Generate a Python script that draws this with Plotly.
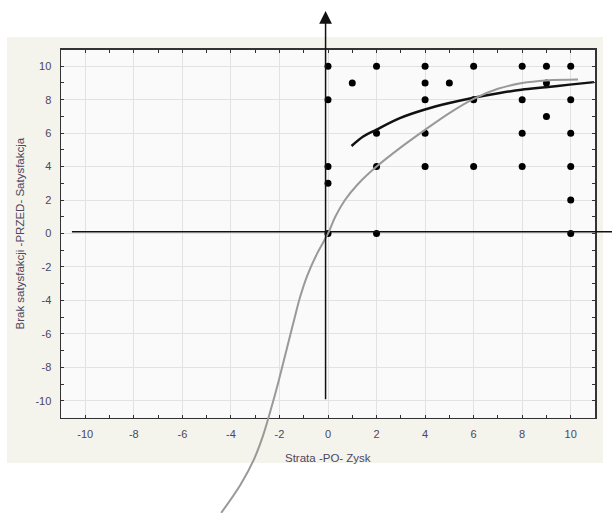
import plotly.graph_objects as go

# ---------------- data ----------------
pts_x = [0, 2, 4, 6, 8, 9, 10,
         1, 4, 5, 9,
         0, 4, 6, 8, 10,
         9,
         2, 4, 8, 10,
         0, 2, 4, 6, 8, 10,
         0,
         10,
         0, 2, 10]
pts_y = [10, 10, 10, 10, 10, 10, 10,
         9, 9, 9, 9,
         8, 8, 8, 8, 8,
         7,
         6, 6, 6, 6,
         4, 4, 4, 4, 4, 4,
         3,
         2,
         0, 0, 0]

# black fitted curve
fit_x = [0.97, 1.45, 1.98, 2.96, 3.96, 5.0, 5.95, 7.08, 7.97, 8.97, 9.96, 10.96]
fit_y = [5.23, 5.8, 6.2, 6.9, 7.4, 7.8, 8.1, 8.4, 8.6, 8.75, 8.9, 9.05]

# grey value-function curve (extends beyond the plot frame)
val_x = [-4.4, -3.6, -3.05, -2.68, -2.37, -2.03, -1.7, -1.42, -1.15, -0.85, -0.45,
         0.0, 0.3, 0.7, 1.2, 2.0, 3.0, 4.0, 5.0, 6.0, 7.0, 8.0, 9.0, 10.3]
val_y = [-16.7, -15.0, -13.5, -12.1, -10.6, -8.8, -6.9, -5.3, -3.8, -2.5, -1.2,
         0.0, 1.0, 2.0, 2.9, 4.0, 5.15, 6.2, 7.2, 8.05, 8.65, 9.0, 9.15, 9.2]

# tick labels (hyphen minus, as in the original)
tick_vals = [-10, -8, -6, -4, -2, 0, 2, 4, 6, 8, 10]
tick_text = ["-10", "-8", "-6", "-4", "-2", "0", "2", "4", "6", "8", "10"]

# hand-drawn coordinate axes
vaxis_x = [-0.1, -0.1]
vaxis_y = [-10, 13.3]
haxis_x = [-10.55, 12.5]
haxis_y = [0.1, 0.1]

x_title = "Strata -PO- Zysk"
y_title = "Brak satysfakcji -PRZED- Satysfakcja"

# ---------------- layout geometry ----------------
W, H = 612, 513
FRAME_L, FRAME_R, FRAME_T, FRAME_B = 61, 595, 49.5, 417.5
X_RANGE = [-11, 11]
Y_RANGE = [-11, 11]
sx = (FRAME_R - FRAME_L) / (X_RANGE[1] - X_RANGE[0])
sy = (FRAME_B - FRAME_T) / (Y_RANGE[1] - Y_RANGE[0])
x2_range = [X_RANGE[0] - FRAME_L / sx, X_RANGE[1] + (W - FRAME_R) / sx]
y2_range = [Y_RANGE[0] - (H - FRAME_B) / sy, Y_RANGE[1] + FRAME_T / sy]

FONT = "Liberation Sans, Arial, sans-serif"
TXT = "#4d4660"

fig = go.Figure()

fig.add_trace(go.Scatter(x=pts_x, y=pts_y, mode="markers",
                         marker=dict(color="#000000", size=7),
                         xaxis="x", yaxis="y", hoverinfo="skip"))
fig.add_trace(go.Scatter(x=fit_x, y=fit_y, mode="lines",
                         line=dict(color="#111111", width=2.5, shape="spline"),
                         xaxis="x", yaxis="y", hoverinfo="skip"))

# overlay (full-figure) axes for elements drawn outside the frame
fig.add_trace(go.Scatter(x=haxis_x, y=haxis_y, mode="lines",
                         line=dict(color="#111111", width=1.5),
                         xaxis="x2", yaxis="y2", hoverinfo="skip"))
fig.add_trace(go.Scatter(x=val_x, y=val_y, mode="lines",
                         line=dict(color="#999999", width=2, shape="spline", smoothing=1.0),
                         xaxis="x2", yaxis="y2", hoverinfo="skip"))

axis_common = dict(
    tickmode="array", tickvals=tick_vals, ticktext=tick_text,
    ticks="inside", ticklen=3, tickwidth=1, tickcolor="#333333",
    showline=True, linecolor="#333333", linewidth=1.5, mirror="allticks",
    showgrid=True, gridcolor="#e2e2e2", gridwidth=1, zeroline=False,
    tickfont=dict(family=FONT, size=11, color=TXT),
    minor=dict(tickmode="linear", tick0=0, dtick=1, ticks="inside", ticklen=3,
               tickcolor="#333333", showgrid=False),
    ticklabelstandoff=6,
)

fig.update_layout(
    width=W, height=H,
    margin=dict(l=0, r=0, t=0, b=0, pad=0),
    paper_bgcolor="#ffffff",
    plot_bgcolor="rgba(0,0,0,0)",
    showlegend=False,
    xaxis=dict(domain=[FRAME_L / W, FRAME_R / W], range=X_RANGE, anchor="y", **axis_common),
    yaxis=dict(domain=[(H - FRAME_B) / H, (H - FRAME_T) / H], range=Y_RANGE, anchor="x", **axis_common),
    xaxis2=dict(domain=[0, 1], range=x2_range, anchor="y2", visible=False),
    yaxis2=dict(domain=[0, 1], range=y2_range, anchor="x2", visible=False),
    shapes=[
        dict(type="rect", xref="paper", yref="paper",
             x0=7 / W, x1=603 / W, y0=(H - 463) / H, y1=(H - 37) / H,
             fillcolor="#f4f3ec", line=dict(width=0), layer="below"),
        dict(type="rect", xref="x domain", yref="y domain",
             x0=0, x1=1, y0=0, y1=1,
             fillcolor="#fafafa", line=dict(width=0), layer="below"),
    ],
    annotations=[
        dict(x=vaxis_x[1], y=vaxis_y[1], xref="x2", yref="y2",
             ax=vaxis_x[0], ay=vaxis_y[0], axref="x2", ayref="y2",
             text="", showarrow=True, arrowhead=2, arrowsize=1.7,
             arrowwidth=1.5, arrowcolor="#111111", standoff=0),
        dict(text=x_title, xref="x domain", yref="y domain", x=0.5, y=0,
             xanchor="center", yanchor="top", yshift=-32, showarrow=False,
             font=dict(family=FONT, size=11.5, color=TXT)),
        dict(text=y_title, xref="x domain", yref="y domain", x=0, y=0.5,
             xanchor="right", yanchor="middle", xshift=-34, textangle=-90,
             showarrow=False, font=dict(family=FONT, size=11.5, color=TXT)),
    ],
)

fig.write_html("out.html",
               config={"displayModeBar": False, "staticPlot": True},
               post_script="document.body.style.margin='0px';document.body.style.overflow='hidden';")
